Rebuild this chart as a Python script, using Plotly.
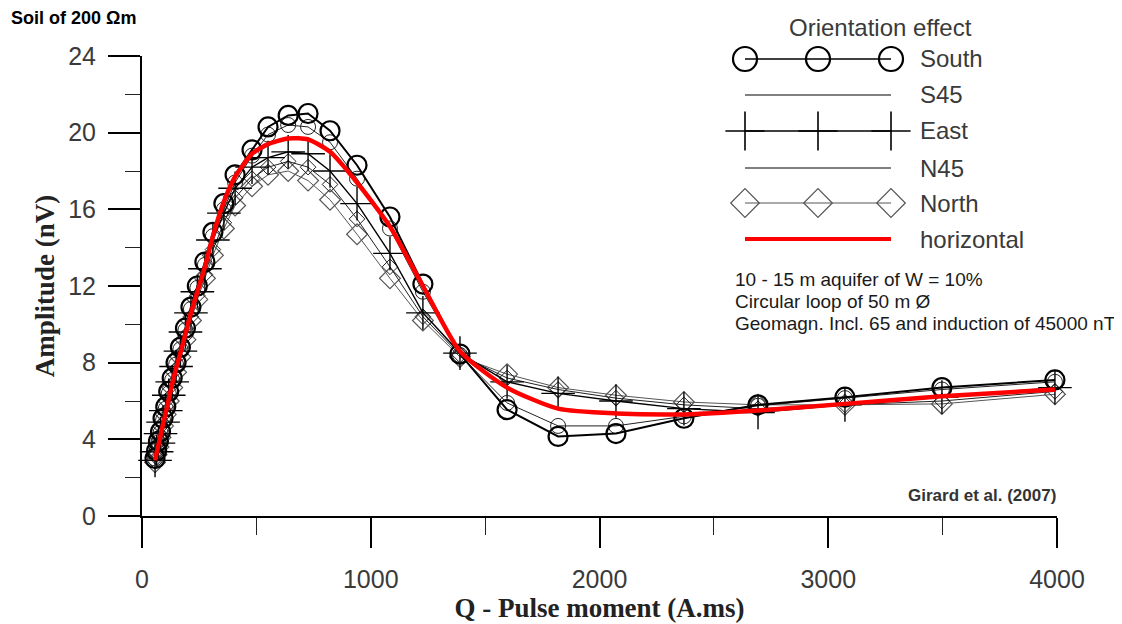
import plotly.graph_objects as go

# ---------------- data ----------------
q = [57, 64, 72, 81, 92, 104, 117, 132, 149, 168, 190, 214, 242, 275, 310, 358, 407,
     481, 551, 639, 726, 822, 940, 1084, 1228, 1390, 1596, 1819, 2072, 2369, 2693,
     3073, 3497, 3991]

south = [3.0, 3.4, 3.9, 4.4, 5.1, 5.7, 6.5, 7.2, 8.0, 8.8, 9.8, 10.9, 12.0, 13.25, 14.8,
         16.3, 17.8, 19.1, 20.3, 20.9, 21.0, 20.1, 18.3, 15.6, 12.1, 8.45, 5.55, 4.15,
         4.3, 5.1, 5.8, 6.2, 6.7, 7.1]
s45 = [3.0, 3.4, 3.85, 4.35, 5.0, 5.6, 6.4, 7.1, 7.9, 8.7, 9.7, 10.8, 11.9, 13.1, 14.6,
       16.0, 17.4, 18.8, 19.9, 20.4, 20.3, 19.5, 17.6, 15.0, 11.7, 8.4, 5.9, 4.7, 4.7,
       5.2, 5.75, 6.15, 6.6, 7.0]
east = [2.9, 3.35, 3.8, 4.3, 4.9, 5.5, 6.3, 7.0, 7.8, 8.6, 9.6, 10.6, 11.7, 12.9, 14.4,
        15.8, 17.1, 18.2, 18.7, 19.0, 18.9, 18.0, 16.3, 13.7, 10.6, 8.5, 7.0, 6.4, 6.0,
        5.6, 5.4, 5.8, 6.2, 6.7]
n45 = [2.85, 3.25, 3.7, 4.2, 4.8, 5.4, 6.15, 6.85, 7.65, 8.45, 9.4, 10.4, 11.5, 12.6,
       13.9, 15.3, 16.6, 17.6, 18.2, 18.5, 18.2, 17.3, 15.5, 13.0, 10.4, 8.4, 7.2, 6.6,
       6.15, 5.8, 5.6, 5.8, 6.0, 6.5]
north = [2.8, 3.2, 3.6, 4.1, 4.7, 5.3, 6.0, 6.7, 7.5, 8.3, 9.2, 10.2, 11.3, 12.4, 13.6,
         15.0, 16.2, 17.2, 17.8, 18.0, 17.5, 16.5, 14.7, 12.4, 10.2, 8.3, 7.4, 6.7, 6.3,
         5.95, 5.8, 5.8, 5.85, 6.35]
horizontal = [2.9, 3.3, 3.7, 4.2, 4.8, 5.4, 6.1, 6.9, 7.7, 8.5, 9.5, 10.6, 11.7, 13.0,
              14.6, 16.4, 17.7, 18.9, 19.4, 19.7, 19.65, 19.0, 17.4, 15.1, 12.0, 8.6,
              6.7, 5.6, 5.35, 5.3, 5.5, 5.85, 6.25, 6.6]

legend_names = ["South", "S45", "East", "N45", "North", "horizontal"]
x_ticks = [0, 1000, 2000, 3000, 4000]
y_ticks = [0, 4, 8, 12, 16, 20, 24]

# ---------------- layout geometry ----------------
# the page body has an 8px margin, so the figure is drawn 8px right/down
OFF = 8
W, H = 1122, 624
L, R, T, B = 142 - OFF, 65 + OFF, 56 - OFF, 108 + OFF
PW, PH = W - L - R, H - T - B


def px(xp, yp):
    """screen pixel position -> paper coordinates"""
    return (xp - OFF - L) / PW, (H - B - (yp - OFF)) / PH


TICKFONT = dict(family="Liberation Sans, Arial", size=25, color="#3a3a3a")
LABFONT = dict(family="Liberation Sans, Arial", size=24, color="#3a3a3a")
TITLEFONT = dict(family="Liberation Serif, Times New Roman, serif", size=27,
                 color="#222222", weight="bold")

styles = {
    "South": dict(line=dict(color="black", width=2),
                  marker=dict(symbol="circle-open", size=19,
                              line=dict(color="black", width=2.2))),
    "S45": dict(line=dict(color="#222", width=1),
                marker=dict(symbol="circle-open", size=15,
                            line=dict(color="#888", width=1))),
    "East": dict(line=dict(color="black", width=1.4),
                 marker=dict(symbol="cross-thin-open", size=24,
                             line=dict(color="black", width=1.4))),
    "N45": dict(line=dict(color="#222", width=1),
                marker=dict(symbol="diamond-open", size=12,
                            line=dict(color="#999", width=1))),
    "North": dict(line=dict(color="#555", width=1),
                  marker=dict(symbol="diamond-open", size=16,
                              line=dict(color="#555", width=1.2))),
    "horizontal": dict(line=dict(color="#ff0000", width=4.5, shape="spline",
                                 smoothing=0.6),
                       marker=None),
}
legend_styles = {
    "South": dict(line=dict(color="black", width=1.6),
                  marker=dict(symbol="circle-open", size=24,
                              line=dict(color="black", width=2.2))),
    "S45": dict(line=dict(color="black", width=1), marker=None),
    "East": dict(line=dict(color="black", width=1.4),
                 marker=dict(symbol="cross-thin-open", size=28,
                             line=dict(color="black", width=1.6))),
    "N45": dict(line=dict(color="black", width=1), marker=None),
    "North": dict(line=dict(color="#555", width=1),
                  marker=dict(symbol="diamond-open", size=22,
                              line=dict(color="#444", width=1.2))),
    "horizontal": dict(line=dict(color="#ff0000", width=4), marker=None),
}

series = {"South": south, "S45": s45, "East": east, "N45": n45,
          "North": north, "horizontal": horizontal}
draw_order = ["North", "N45", "East", "S45", "South", "horizontal"]

fig = go.Figure()
for name in draw_order:
    st = styles[name]
    kw = dict(x=q, y=series[name], name=name, showlegend=False,
              line=st["line"], cliponaxis=False, hoverinfo="x+y+name")
    if st["marker"] is not None:
        kw.update(mode="lines+markers", marker=st["marker"])
    else:
        kw.update(mode="lines")
    fig.add_trace(go.Scatter(**kw))

# ---------------- hand-built legend on a screen-pixel overlay axis ----------------
leg_x = [745, 818, 891]
leg_y = [59, 95, 131, 168, 203, 239]
for name, yy in zip(legend_names, leg_y):
    st = legend_styles[name]
    kw = dict(x=leg_x, y=[yy] * 3, xaxis="x2", yaxis="y2", showlegend=False,
              line=st["line"], cliponaxis=False, hoverinfo="skip")
    if st["marker"] is not None:
        kw.update(mode="lines+markers", marker=st["marker"])
    else:
        kw.update(mode="lines")
    fig.add_trace(go.Scatter(**kw))

annotations = []
for name, yy in zip(legend_names, leg_y):
    xx, yp = px(918, yy)
    annotations.append(dict(x=xx, y=yp, xref="paper", yref="paper", text=name,
                            showarrow=False, xanchor="left", yanchor="middle",
                            font=LABFONT))
xx, yp = px(880, 27)
annotations.append(dict(x=xx, y=yp, xref="paper", yref="paper",
                        text="Orientation effect", showarrow=False,
                        xanchor="center", yanchor="middle", font=LABFONT))

notes = ["10 - 15 m aquifer of W = 10%", "Circular loop of 50 m Ø",
         "Geomagn. Incl. 65 and induction of 45000 nT"]
for t, yy in zip(notes, [279, 301, 323]):
    xx, yp = px(733, yy)
    annotations.append(dict(x=xx, y=yp, xref="paper", yref="paper", text=t,
                            showarrow=False, xanchor="left", yanchor="middle",
                            font=dict(family=LABFONT["family"], size=19,
                                      color="#1a1a1a")))

xx, yp = px(1058, 495)
annotations.append(dict(x=xx, y=yp, xref="paper", yref="paper",
                        text="<b>Girard et al. (2007)</b>", showarrow=False,
                        xanchor="right", yanchor="middle",
                        font=dict(family="Liberation Sans, Arial", size=17,
                                  color="#333")))
xx, yp = px(9, 18)
annotations.append(dict(x=xx, y=yp, xref="paper", yref="paper",
                        text="<b>Soil of 200 Ωm</b>", showarrow=False,
                        xanchor="left", yanchor="middle",
                        font=dict(family="Liberation Sans, Arial", size=18,
                                  color="black")))

fig.update_layout(
    width=W, height=H,
    margin=dict(l=L, r=R, t=T, b=B, pad=0),
    paper_bgcolor="white", plot_bgcolor="white",
    showlegend=False,
    annotations=annotations,
    xaxis=dict(range=[0, 4000], tickvals=x_ticks, ticktext=[str(v) for v in x_ticks],
               showgrid=False, zeroline=False, showline=True, linecolor="black",
               linewidth=2, ticks="outside", ticklen=30, tickwidth=1.5,
               tickcolor="black", tickfont=TICKFONT, ticklabelstandoff=10,
               minor=dict(dtick=500, tick0=0, ticks="outside", ticklen=17,
                          tickwidth=1.3, tickcolor="#222", showgrid=False),
               title=dict(text="Q - Pulse moment (A.ms)", font=TITLEFONT,
                          standoff=4),
               fixedrange=True),
    yaxis=dict(range=[0, 24], tickvals=y_ticks, ticktext=[str(v) for v in y_ticks],
               showgrid=False, zeroline=False, showline=True, linecolor="black",
               linewidth=2, ticks="outside", ticklen=32, tickwidth=1.5,
               tickcolor="black", tickfont=TICKFONT, ticklabelstandoff=7,
               minor=dict(dtick=2, tick0=0, ticks="outside", ticklen=15,
                          tickwidth=1.3, tickcolor="#222", showgrid=False),
               title=dict(text="Amplitude (nV)", font=TITLEFONT, standoff=6),
               fixedrange=True),
    xaxis2=dict(overlaying="x", range=[L + OFF, L + OFF + PW], visible=False,
                fixedrange=True),
    yaxis2=dict(overlaying="y", range=[T + OFF + PH, T + OFF], visible=False,
                fixedrange=True),
)

fig.write_html("out.html")
